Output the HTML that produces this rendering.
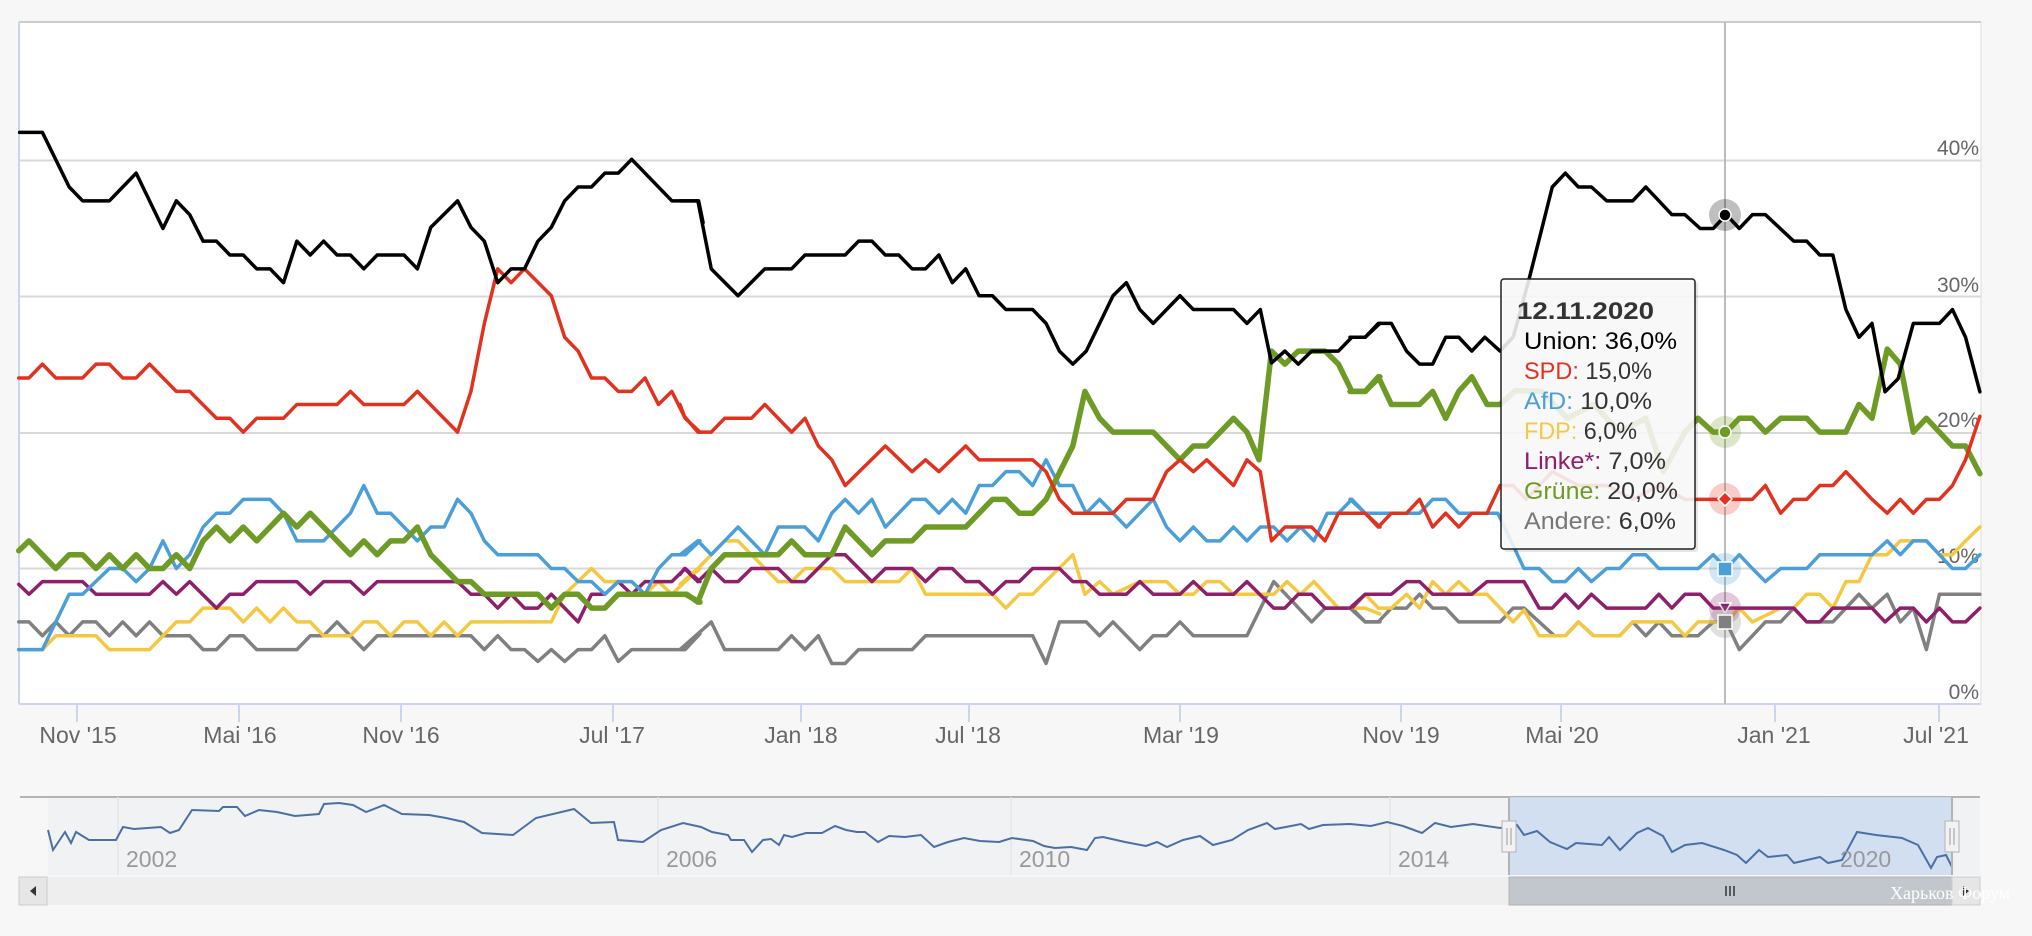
<!DOCTYPE html>
<html><head><meta charset="utf-8"><style>
html,body{margin:0;padding:0;background:#f7f7f7;}
svg{display:block;font-family:"Liberation Sans",sans-serif;}
</style></head><body>
<svg width="2032" height="936" viewBox="0 0 2032 936" xmlns="http://www.w3.org/2000/svg">
<rect x="0" y="0" width="2032" height="936" fill="#f7f7f7"/>
<rect x="19" y="22" width="1962" height="682" fill="#fff"/>
<line x1="19" y1="22" x2="1981" y2="22" stroke="#ccc" stroke-width="2"/>
<line x1="1981" y1="22" x2="1981" y2="704" stroke="#ddd" stroke-width="1"/>
<g stroke="#d8d8d8" stroke-width="2">
<line x1="19" y1="160.5" x2="1981" y2="160.5"/>
<line x1="19" y1="296.5" x2="1981" y2="296.5"/>
<line x1="19" y1="433" x2="1981" y2="433"/>
<line x1="19" y1="568.5" x2="1981" y2="568.5"/>
</g>
<line x1="19" y1="22" x2="19" y2="704" stroke="#ccd6eb" stroke-width="2"/>
<line x1="19" y1="704" x2="1981" y2="704" stroke="#ccd6eb" stroke-width="2"/>
<g stroke="#ccd6eb" stroke-width="2">
<line x1="77" y1="704" x2="77" y2="722"/><line x1="239" y1="704" x2="239" y2="722"/>
<line x1="401" y1="704" x2="401" y2="722"/><line x1="613" y1="704" x2="613" y2="722"/>
<line x1="801" y1="704" x2="801" y2="722"/><line x1="969" y1="704" x2="969" y2="722"/>
<line x1="1180" y1="704" x2="1180" y2="722"/><line x1="1401" y1="704" x2="1401" y2="722"/>
<line x1="1561" y1="704" x2="1561" y2="722"/><line x1="1775" y1="704" x2="1775" y2="722"/>
<line x1="1939" y1="704" x2="1939" y2="722"/>
</g>
<g fill="#666" font-size="23" text-anchor="middle">
<text x="78" y="743">Nov '15</text><text x="240" y="743">Mai '16</text>
<text x="401" y="743">Nov '16</text><text x="612" y="743">Jul '17</text>
<text x="801" y="743">Jan '18</text><text x="968" y="743">Jul '18</text>
<text x="1181" y="743">Mar '19</text><text x="1401" y="743">Nov '19</text>
<text x="1562" y="743">Mai '20</text><text x="1774" y="743">Jan '21</text>
<text x="1936" y="743">Jul '21</text>
</g>
<g fill="#666" font-size="21" text-anchor="end">
<text x="1979" y="155">40%</text><text x="1979" y="292">30%</text>
<text x="1979" y="427">20%</text><text x="1979" y="563">10%</text>
<text x="1979" y="699">0%</text>
</g>
<line x1="1725" y1="22" x2="1725" y2="704" stroke="#bbb" stroke-width="2"/>

<g fill="none" stroke-linejoin="round" stroke-linecap="round">
<g transform="translate(0,100) scale(0.4464,0.3954)">
<polyline vector-effect="non-scaling-stroke" stroke="#808080" stroke-width="3.5" points="42,1320 65,1320 95,1355 125,1320 155,1355 185,1320 215,1320 245,1355 275,1320 305,1355 335,1320 365,1355 425,1355 455,1390 485,1390 515,1355 545,1355 575,1390 665,1390 695,1355 725,1355 755,1320 815,1390 845,1355 1055,1355 1085,1390 1115,1355 1145,1390 1175,1390 1205,1420 1235,1390 1265,1420 1295,1390 1325,1390 1355,1355 1385,1420 1415,1390 1535,1390 1568,1350"/>
<polyline vector-effect="non-scaling-stroke" stroke="#f5c842" stroke-width="3.5" points="42,1390 95,1390 125,1355 215,1355 245,1390 335,1390 365,1355 395,1320 425,1320 455,1285 515,1285 545,1320 575,1285 605,1320 635,1285 665,1320 695,1320 725,1355 785,1355 815,1320 845,1320 875,1355 905,1320 935,1320 965,1355 995,1320 1025,1355 1055,1320 1235,1320 1265,1250 1325,1185 1355,1218 1415,1218 1445,1250 1475,1218 1505,1250 1535,1218 1568,1185"/>
<polyline vector-effect="non-scaling-stroke" stroke="#8e1f6b" stroke-width="3.5" points="42,1225 65,1250 95,1218 185,1218 215,1250 335,1250 365,1218 395,1250 425,1218 485,1285 515,1250 545,1250 575,1218 665,1218 695,1250 725,1218 785,1218 815,1250 845,1218 1025,1218 1055,1250 1085,1250 1115,1285 1145,1250 1175,1285 1205,1285 1235,1250 1295,1320 1325,1250 1355,1250 1385,1218 1415,1250 1445,1218 1505,1218 1535,1185 1568,1218"/>
<polyline vector-effect="non-scaling-stroke" stroke="#4a9fd8" stroke-width="3.5" points="42,1390 95,1390 155,1250 185,1250 245,1185 275,1185 305,1218 335,1185 365,1115 395,1185 425,1150 455,1080 485,1045 515,1045 545,1010 605,1010 635,1045 665,1115 725,1115 785,1045 815,975 845,1045 875,1045 935,1115 965,1080 995,1080 1025,1010 1055,1045 1085,1115 1115,1150 1205,1150 1235,1185 1265,1185 1295,1218 1325,1218 1355,1250 1385,1218 1415,1218 1445,1250 1475,1185 1505,1150 1535,1150 1568,1115"/>
<polyline vector-effect="non-scaling-stroke" stroke="#6e9b25" stroke-width="5.5" points="42,1140 65,1115 125,1185 155,1150 185,1150 215,1185 245,1150 275,1185 305,1150 335,1185 365,1185 395,1150 425,1185 455,1115 485,1080 515,1115 545,1080 575,1115 635,1045 665,1080 695,1045 785,1150 815,1115 845,1150 875,1115 905,1115 935,1080 965,1150 1025,1218 1055,1218 1085,1250 1205,1250 1235,1285 1265,1250 1295,1250 1325,1285 1355,1285 1385,1250 1535,1250 1568,1270"/>
<polyline vector-effect="non-scaling-stroke" stroke="#e2321f" stroke-width="3.5" points="42,703 65,703 95,668 125,703 185,703 215,668 245,668 275,703 305,703 335,668 395,737 425,737 485,805 515,805 545,840 575,805 635,805 665,770 755,770 785,737 815,770 905,770 935,737 1025,840 1055,737 1085,565 1115,427 1145,462 1175,427 1235,495 1265,600 1295,635 1325,703 1355,703 1385,737 1415,737 1445,703 1475,770 1505,737 1535,805 1568,840"/>
<polyline vector-effect="non-scaling-stroke" stroke="#000" stroke-width="3.5" points="44,82 95,82 155,220 185,255 245,255 305,185 365,325 395,255 425,290 455,357 485,357 515,392 545,392 575,427 605,427 635,462 665,357 695,392 725,357 755,392 785,392 815,427 845,392 905,392 935,427 965,322 1025,255 1055,322 1085,357 1115,462 1145,427 1175,427 1205,357 1235,322 1265,255 1295,220 1325,220 1355,185 1385,185 1415,150 1505,255 1565,255 1575,310"/>
</g>
<g transform="translate(680,100) scale(0.4464,0.3954)">
<polyline vector-effect="non-scaling-stroke" stroke="#808080" stroke-width="3.5" points="0,1390 70,1320 100,1390 220,1390 250,1355 280,1390 310,1355 340,1425 370,1425 400,1390 520,1390 550,1355 790,1355 820,1425 850,1320 910,1320 940,1355 970,1320 1030,1390 1060,1355 1090,1355 1120,1320 1150,1355 1270,1355 1330,1218 1415,1320 1445,1285 1505,1285 1535,1320 1568,1320"/>
<polyline vector-effect="non-scaling-stroke" stroke="#f5c842" stroke-width="3.5" points="0,1225 40,1185 70,1150 100,1115 130,1115 160,1150 220,1218 250,1218 280,1185 340,1185 370,1218 490,1218 520,1185 550,1250 700,1250 730,1285 760,1250 790,1250 880,1150 907,1250 940,1218 970,1250 1030,1218 1090,1218 1120,1250 1150,1250 1180,1218 1210,1218 1240,1250 1330,1250 1360,1218 1390,1250 1420,1218 1475,1285 1535,1285 1568,1300"/>
<polyline vector-effect="non-scaling-stroke" stroke="#8e1f6b" stroke-width="3.5" points="0,1200 10,1185 40,1218 70,1185 100,1218 130,1218 160,1185 220,1185 250,1218 280,1218 340,1150 370,1150 430,1218 460,1185 520,1185 550,1218 580,1185 610,1185 640,1218 670,1218 700,1250 730,1218 760,1218 790,1185 850,1185 880,1218 910,1218 940,1250 1000,1250 1030,1218 1060,1250 1120,1250 1150,1218 1180,1250 1240,1250 1270,1218 1330,1285 1355,1285 1385,1250 1415,1250 1445,1285 1505,1285 1535,1250 1568,1250"/>
<polyline vector-effect="non-scaling-stroke" stroke="#4a9fd8" stroke-width="3.5" points="0,1150 40,1115 70,1150 130,1080 190,1150 220,1080 280,1080 310,1115 340,1045 370,1010 400,1045 430,1010 460,1080 520,1010 550,1010 580,1045 610,1010 640,1045 670,975 700,975 730,940 760,940 790,975 820,910 850,975 880,975 910,1045 940,1010 1000,1080 1060,1010 1090,1080 1120,1115 1150,1080 1180,1115 1210,1115 1240,1080 1270,1115 1300,1080 1330,1080 1360,1115 1390,1080 1420,1115 1450,1045 1475,1045 1505,1010 1535,1045 1568,1045"/>
<polyline vector-effect="non-scaling-stroke" stroke="#6e9b25" stroke-width="5.5" points="0,1250 15,1250 40,1270 70,1185 100,1150 220,1150 250,1115 280,1150 340,1150 370,1080 430,1150 460,1115 520,1115 550,1080 640,1080 700,1010 730,1010 760,1045 790,1045 820,1010 880,875 907,737 940,805 970,840 1060,840 1120,910 1150,875 1180,875 1240,805 1270,840 1297,910 1325,635 1355,668 1385,635 1445,635 1475,668 1505,737 1535,737 1568,700"/>
<polyline vector-effect="non-scaling-stroke" stroke="#e2321f" stroke-width="3.5" points="0,770 10,800 40,840 70,840 100,805 160,805 190,770 250,840 280,805 310,875 340,910 370,975 460,875 520,940 550,910 580,940 640,875 670,910 790,910 820,940 850,1010 880,1045 970,1045 1000,1010 1060,1010 1090,940 1120,910 1150,940 1180,910 1240,975 1270,910 1300,940 1325,1115 1355,1080 1415,1080 1445,1115 1475,1045 1535,1045 1568,1080"/>
<polyline vector-effect="non-scaling-stroke" stroke="#000" stroke-width="3.5" points="0,255 40,255 70,427 130,495 190,427 250,427 280,392 370,392 400,357 430,357 460,392 490,392 520,427 550,427 580,392 610,462 640,427 670,495 700,495 730,530 790,530 820,565 850,635 880,668 910,635 970,495 1000,462 1030,530 1060,565 1120,495 1150,530 1240,530 1270,565 1300,530 1325,665 1355,635 1385,668 1415,635 1475,635 1505,600 1535,600 1568,565"/>
</g>
<g transform="translate(1350,100) scale(0.435,0.3954)">
<polyline vector-effect="non-scaling-stroke" stroke="#808080" stroke-width="3.5" points="0,1285 35,1320 65,1320 95,1285 130,1285 160,1250 190,1285 220,1285 250,1320 345,1320 375,1285 400,1285 435,1320 470,1355 495,1355 525,1320 560,1355 620,1355 650,1320 680,1355 710,1320 740,1355 800,1355 835,1320 865,1320 895,1390 925,1355 955,1320 990,1320 1020,1285 1050,1320 1110,1320 1170,1250 1200,1285 1235,1250 1265,1320 1295,1285 1325,1390 1355,1250 1448,1250"/>
<polyline vector-effect="non-scaling-stroke" stroke="#f5c842" stroke-width="3.5" points="0,1285 35,1250 65,1285 95,1285 130,1250 160,1285 190,1218 220,1250 250,1218 280,1250 315,1250 345,1285 375,1320 400,1290 435,1355 495,1355 525,1320 560,1355 620,1355 650,1320 740,1320 770,1355 800,1320 865,1320 895,1285 925,1320 990,1285 1020,1285 1050,1250 1080,1250 1110,1285 1140,1218 1170,1218 1200,1150 1235,1150 1265,1115 1325,1115 1355,1150 1385,1150 1415,1115 1448,1080"/>
<polyline vector-effect="non-scaling-stroke" stroke="#8e1f6b" stroke-width="3.5" points="0,1285 35,1250 95,1250 130,1218 160,1218 190,1250 280,1250 315,1218 400,1218 435,1285 465,1285 495,1250 525,1285 555,1250 590,1285 680,1285 710,1250 740,1285 770,1250 805,1250 835,1285 1020,1285 1050,1320 1080,1320 1110,1285 1200,1285 1230,1320 1265,1285 1295,1285 1325,1320 1355,1285 1385,1320 1415,1320 1448,1285"/>
<polyline vector-effect="non-scaling-stroke" stroke="#4a9fd8" stroke-width="3.5" points="0,1010 35,1045 160,1045 190,1010 220,1010 250,1045 340,1045 370,1115 400,1185 435,1185 465,1218 495,1218 525,1185 555,1218 590,1185 620,1185 650,1150 680,1150 710,1185 800,1185 835,1150 865,1185 895,1150 925,1185 955,1218 990,1185 1050,1185 1080,1150 1200,1150 1235,1115 1265,1150 1295,1115 1325,1115 1355,1150 1385,1185 1415,1185 1448,1150"/>
<polyline vector-effect="non-scaling-stroke" stroke="#6e9b25" stroke-width="5.5" points="0,737 35,737 65,700 95,770 160,770 190,737 220,805 250,737 280,700 315,770 345,770 380,735 440,737 500,805 560,770 620,840 680,805 720,940 770,840 800,805 835,840 865,840 895,805 925,805 955,840 990,805 1050,805 1080,840 1140,840 1170,770 1200,805 1235,630 1265,668 1295,840 1325,805 1385,875 1415,875 1448,945"/>
<polyline vector-effect="non-scaling-stroke" stroke="#e2321f" stroke-width="3.5" points="0,1045 35,1045 65,1080 95,1045 130,1045 160,1010 190,1080 220,1045 250,1080 280,1045 315,1045 345,975 375,975 405,1010 465,940 525,975 590,975 650,1010 710,975 770,1010 805,1010 925,1010 955,975 990,1045 1020,1010 1050,1010 1080,975 1110,975 1140,940 1200,1010 1235,1045 1265,1010 1295,1045 1325,1010 1355,1010 1385,975 1415,910 1448,800"/>
<polyline vector-effect="non-scaling-stroke" stroke="#000" stroke-width="3.5" points="0,600 35,600 65,565 95,565 130,635 160,668 190,668 220,600 250,600 280,635 310,600 345,635 375,600 410,460 440,330 465,220 495,185 525,220 555,220 590,255 650,255 680,220 740,290 770,290 805,325 835,325 865,290 895,325 925,290 955,290 1020,357 1050,357 1080,392 1110,392 1140,530 1170,600 1200,565 1230,738 1260,705 1295,565 1355,565 1385,530 1415,600 1448,738"/>
</g>
</g>

<circle cx="1725" cy="215" r="16" fill="#000" opacity="0.25"/>
<circle cx="1725" cy="215" r="6" fill="#000" stroke="#fff" stroke-width="1.5"/>
<circle cx="1725" cy="432" r="16" fill="#6e9b25" opacity="0.25"/>
<circle cx="1725" cy="432" r="6" fill="#6e9b25" stroke="#fff" stroke-width="1.5"/>
<circle cx="1725" cy="499" r="16" fill="#e2321f" opacity="0.25"/>
<path d="M1725,492 L1732,499 L1725,506 L1718,499Z" fill="#e2321f" stroke="#fff" stroke-width="1.5"/>
<circle cx="1725" cy="569" r="16" fill="#4a9fd8" opacity="0.25"/>
<rect x="1718" y="562" width="14" height="14" fill="#4a9fd8" stroke="#fff" stroke-width="1.5"/>
<circle cx="1725" cy="608" r="16" fill="#8e1f6b" opacity="0.25"/>
<path d="M1719,603 L1731,603 L1725,613Z" fill="#8e1f6b" stroke="#fff" stroke-width="1.5"/>
<circle cx="1725" cy="622" r="16" fill="#808080" opacity="0.25"/>
<rect x="1718" y="615" width="14" height="14" fill="#808080" stroke="#fff" stroke-width="1.5"/>

<rect x="1504" y="282" width="194" height="270" rx="3" fill="#000" opacity="0.1"/>
<rect x="1501" y="279" width="194" height="270" rx="3" fill="#fafafa" fill-opacity="0.88" stroke="#222" stroke-width="1.5"/>
<g font-size="24">
<text x="1517" y="319" font-weight="bold" fill="#333" textLength="137" lengthAdjust="spacingAndGlyphs">12.11.2020</text>
<text x="1524" y="349" fill="#000" textLength="153" lengthAdjust="spacingAndGlyphs">Union: 36,0%</text>
<text x="1524" y="379" textLength="128" lengthAdjust="spacingAndGlyphs"><tspan fill="#e2321f">SPD:</tspan><tspan fill="#333"> 15,0%</tspan></text>
<text x="1524" y="409" textLength="128" lengthAdjust="spacingAndGlyphs"><tspan fill="#4a9fd8">AfD:</tspan><tspan fill="#333"> 10,0%</tspan></text>
<text x="1524" y="439" textLength="113" lengthAdjust="spacingAndGlyphs"><tspan fill="#f5c842">FDP:</tspan><tspan fill="#333"> 6,0%</tspan></text>
<text x="1524" y="469" textLength="142" lengthAdjust="spacingAndGlyphs"><tspan fill="#8e1f6b">Linke*:</tspan><tspan fill="#333"> 7,0%</tspan></text>
<text x="1524" y="499" textLength="154" lengthAdjust="spacingAndGlyphs"><tspan fill="#6e9b25">Grüne:</tspan><tspan fill="#333"> 20,0%</tspan></text>
<text x="1524" y="529" textLength="152" lengthAdjust="spacingAndGlyphs"><tspan fill="#777">Andere:</tspan><tspan fill="#333"> 6,0%</tspan></text>
</g>

<rect x="48" y="797" width="1932" height="78" fill="#f1f2f4"/>
<line x1="20" y1="797" x2="1980" y2="797" stroke="#b3b3b3" stroke-width="2"/>
<g stroke="#e6e6e6" stroke-width="1.5">
<line x1="118" y1="797" x2="118" y2="875"/><line x1="658" y1="797" x2="658" y2="875"/>
<line x1="1011" y1="797" x2="1011" y2="875"/><line x1="1390" y1="797" x2="1390" y2="875"/>
<line x1="1832" y1="797" x2="1832" y2="875"/>
</g>
<rect x="1509" y="797" width="443" height="78" fill="#ccdcf0" opacity="0.85"/>
<polyline fill="none" stroke="#4a6fa5" stroke-width="2" points="48,830 53,850 65,832 71,843 76,832 89,840 103,840 116,840 123,827 134,829 161,827 170,833 179,830 192,810 219,811 223,807 237,807 245,816 259,810 277,812 295,816 319,814 324,804 339,803 353,805 366,812 384,805 402,814 429,815 446,818 464,822 482,833 513,835 536,818 574,809 591,823 614,822 618,840 643,842 661,830 683,823 701,827 712,832 728,835 731,840 744,840 752,852 763,840 771,839 779,845 784,835 792,837 806,833 822,833 835,826 846,830 857,832 865,832 878,842 889,836 905,837 921,835 934,847 948,842 964,838 980,841 999,842 1012,838 1033,841 1044,846 1055,848 1071,847 1087,850 1095,838 1103,837 1125,842 1146,846 1157,842 1167,847 1183,840 1200,836 1213,845 1232,840 1248,830 1267,823 1275,829 1291,826 1301,824 1309,829 1323,825 1350,824 1371,826 1387,822 1403,826 1422,833 1435,823 1451,827 1473,824 1500,828 1517,825 1524,835 1537,831 1550,842 1567,849 1576,843 1602,845 1609,837 1620,850 1637,833 1648,828 1663,836 1672,852 1685,845 1702,843 1724,850 1737,855 1746,863 1759,850 1768,857 1787,855 1794,863 1820,857 1828,863 1842,860 1857,832 1876,835 1902,838 1918,845 1931,868 1937,857 1946,855 1952,867"/>
<g fill="#999" font-size="23">
<text x="126" y="867">2002</text><text x="666" y="867">2006</text>
<text x="1019" y="867">2010</text><text x="1398" y="867">2014</text>
<text x="1840" y="867">2020</text>
</g>
<line x1="1509" y1="797" x2="1509" y2="875" stroke="#b3b3b3" stroke-width="2"/>
<line x1="1952" y1="797" x2="1952" y2="875" stroke="#b3b3b3" stroke-width="2"/>
<rect x="1502" y="821" width="14" height="31" fill="#f2f2f2" stroke="#b3b3b3"/>
<line x1="1507" y1="828" x2="1507" y2="845" stroke="#999"/><line x1="1511" y1="828" x2="1511" y2="845" stroke="#999"/>
<rect x="1945" y="821" width="14" height="31" fill="#f2f2f2" stroke="#b3b3b3"/>
<line x1="1950" y1="828" x2="1950" y2="845" stroke="#999"/><line x1="1954" y1="828" x2="1954" y2="845" stroke="#999"/>
<rect x="19" y="877" width="1961" height="28" fill="#eeeeee"/>
<rect x="1509" y="877" width="443" height="28" fill="#c2c7cd" stroke="#b3b3b3"/>
<g stroke="#333" stroke-width="1.5"><line x1="1726" y1="886" x2="1726" y2="896"/><line x1="1730" y1="886" x2="1730" y2="896"/><line x1="1734" y1="886" x2="1734" y2="896"/></g>
<rect x="19" y="877" width="28" height="28" fill="#e6e6e6" stroke="#ccc"/>
<path d="M36,886 L30,891 L36,896Z" fill="#333"/>
<rect x="1952" y="877" width="28" height="28" fill="#e6e6e6" stroke="#ccc"/>
<path d="M1963,886 L1969,891 L1963,896Z" fill="#333"/>
<text x="1890" y="899" font-family="Liberation Serif,serif" font-size="18" fill="#fff">Харьков Форум</text>
</svg>
</body></html>
